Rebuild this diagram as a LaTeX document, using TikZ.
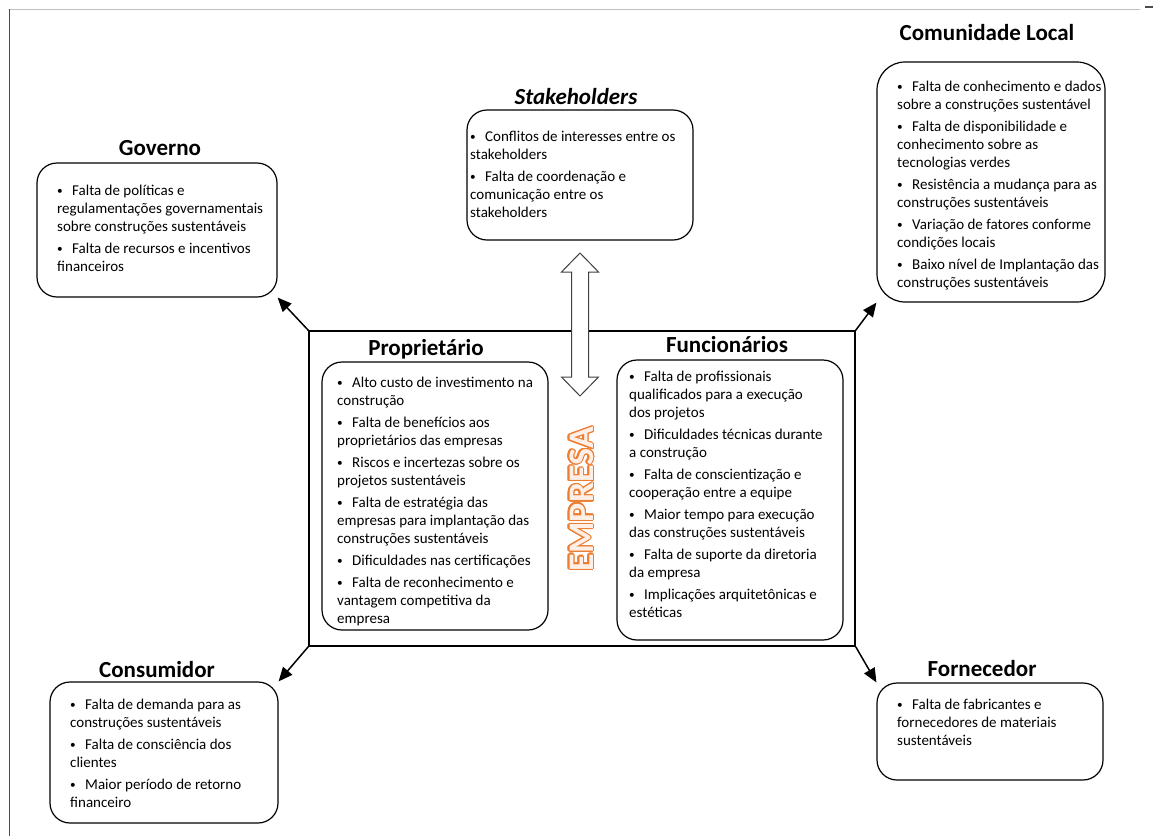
\documentclass[tikz,border=0pt]{standalone}
\usepackage{fontspec}
\setmainfont{Carlito}
\usepackage[copies]{contour}
\usetikzlibrary{arrows.meta}

\definecolor{laranja}{RGB}{237,125,49}
\contourlength{1.2pt}
\newcommand{\bul}{\makebox[15pt][l]{\raisebox{0.22ex}{\scalebox{0.75}{\textbullet}}}}

\begin{document}
\begin{tikzpicture}[
		x=1pt, y=-1pt,
		every node/.style={inner sep=0pt},
		title/.style={font=\fontsize{23}{26}\selectfont\bfseries},
		box/.style={draw, rounded corners=20pt, line width=1.2pt},
		txt/.style={anchor=north west, align=left, font=\fontsize{15}{18}\selectfont},
		seta/.style={-{Triangle[length=14pt, width=12pt]}, line width=1.5pt}
	]
  \useasboundingbox (0,0) rectangle (1153,836);
  % page frame
  \draw[black!25] (9,9) -- (1140,9);
  \draw[black!70] (9,9) -- (9,836);
  \draw[black!70, line width=2pt] (1145,7) -- (1153,7);

  % empresa
  \node (emp) [draw, line width=1.3pt, minimum width=546pt, minimum height=315pt] at (582,488.5) {};
  \node (emp_label) [rotate=90, text=laranja!12, font=\fontsize{36}{36}\selectfont\bfseries] at (582,499) {\contour{laranja}{EMPRESA}};

  \node (prop_title) [title] at (426,349) {Proprietário};
  \node (prop_box) [box, minimum width=226pt, minimum height=268pt] at (435,496) {};
  \node (prop_text) [txt] at (337,375) {\strut\bul Alto custo de investimento na\\ construção\\[4pt]\bul Falta de benefícios aos\\ proprietários das empresas\\[4pt]\bul Riscos e incertezas sobre os\\ projetos sustentáveis\\[4pt]\bul Falta de estratégia das\\ empresas para implantação das\\ construções sustentáveis\\[4pt]\bul Dificuldades nas certificações\\[4pt]\bul Falta de reconhecimento e\\ vantagem competitiva da\\ empresa};

  \node (func_title) [title] at (727,345) {Funcionários};
  \node (func_box) [box, minimum width=226pt, minimum height=280pt] at (730,500) {};
  \node (func_text) [txt] at (629,369) {\strut\bul Falta de profissionais\\ qualificados para a execução\\ dos projetos\\[4pt]\bul Dificuldades técnicas durante\\ a construção\\[4pt]\bul Falta de conscientização e\\ cooperação entre a equipe\\[4pt]\bul Maior tempo para execução\\ das construções sustentáveis\\[4pt]\bul Falta de suporte da diretoria\\ da empresa\\[4pt]\bul Implicações arquitetônicas e\\ estéticas};

  % stakeholders
  \node (stk_title) [title, font=\fontsize{23}{26}\selectfont\bfseries\itshape] at (576,97) {Stakeholders};
  \node (stk_box) [box, minimum width=226pt, minimum height=130pt] at (580,175) {};
  \node (stk_text) [txt] at (470,129) {\strut\bul Conflitos de interesses entre os\\ stakeholders\\[4pt]\bul Falta de coordenação e\\ comunicação entre os\\ stakeholders};
  \draw[black!75, fill=white, line width=1pt] (580,253) -- (598.5,272) -- (588.5,272) -- (588.5,377) -- (598.5,377) -- (580,396)
    -- (561.5,377) -- (571.5,377) -- (571.5,272) -- (561.5,272) -- cycle;

  % governo
  \node (gov_title) [title] at (160,148) {Governo};
  \node (gov_box) [box, minimum width=240pt, minimum height=134pt] at (157,230) {};
  \node (gov_text) [txt] at (57,183) {\strut\bul Falta de políticas e\\ regulamentações governamentais\\ sobre construções sustentáveis\\[4pt]\bul Falta de recursos e incentivos\\ financeiros};

  % comunidade
  \node (com_title) [title] at (987,33) {Comunidade Local};
  \node (com_box) [box, rounded corners=28pt, minimum width=228pt, minimum height=240pt] at (991,182) {};
  \node (com_text) [txt] at (897,79) {\strut\bul Falta de conhecimento e dados\\ sobre a construções sustentável\\[4pt]\bul Falta de disponibilidade e\\ conhecimento sobre as\\ tecnologias verdes\\[4pt]\bul Resistência a mudança para as\\ construções sustentáveis\\[4pt]\bul Variação de fatores conforme\\ condições locais\\[4pt]\bul Baixo nível de Implantação das\\ construções sustentáveis};

  % consumidor
  \node (cons_title) [title] at (157,670) {Consumidor};
  \node (cons_box) [box, minimum width=228pt, minimum height=141pt] at (164,752.5) {};
  \node (cons_text) [txt] at (70,697) {\strut\bul Falta de demanda para as\\ construções sustentáveis\\[4pt]\bul Falta de consciência dos\\ clientes\\[4pt]\bul Maior período de retorno\\ financeiro};

  % fornecedor
  \node (forn_title) [title] at (982,669) {Fornecedor};
  \node (forn_box) [box, minimum width=226pt, minimum height=97pt] at (990,731.5) {};
  \node (forn_text) [txt] at (897,697) {\strut\bul Falta de fabricantes e\\ fornecedores de materiais\\ sustentáveis};

  \draw[seta] (emp.north west) -- (gov_box.south east);
  \draw[seta] (emp.north east) -- (com_box.south west);
  \draw[seta] (emp.south west) -- (cons_box.north east);
  \draw[seta] (emp.south east) -- (forn_box.north west);
\end{tikzpicture}
\end{document}
